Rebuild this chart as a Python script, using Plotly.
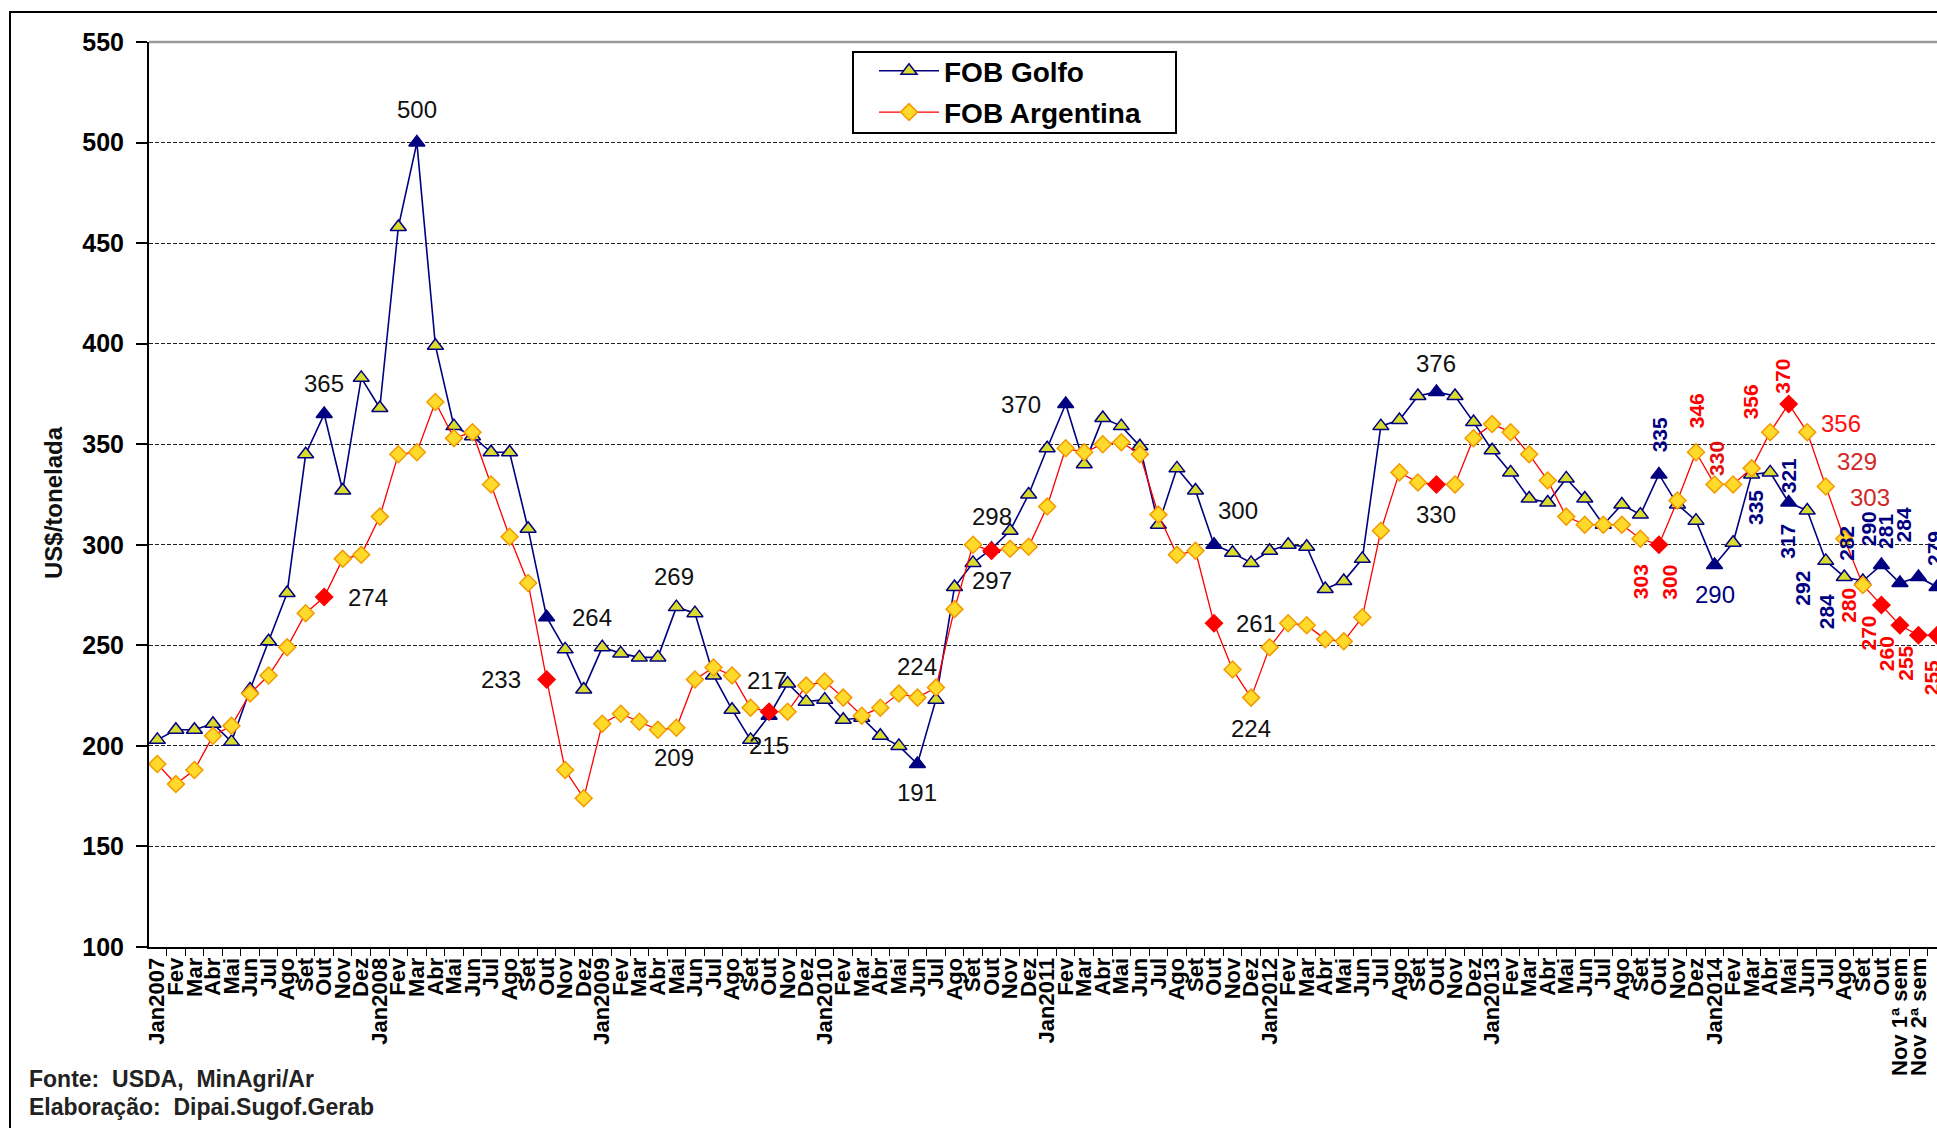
import plotly.graph_objects as go

# ---------------- data ----------------
tick_labels = [
    "Jan2007", "Fev", "Mar", "Abr", "Mai", "Jun", "Jul", "Ago", "Set", "Out", "Nov", "Dez",
    "Jan2008", "Fev", "Mar", "Abr", "Mai", "Jun", "Jul", "Ago", "Set", "Out", "Nov", "Dez",
    "Jan2009", "Fev", "Mar", "Abr", "Mai", "Jun", "Jul", "Ago", "Set", "Out", "Nov", "Dez",
    "Jan2010", "Fev", "Mar", "Abr", "Mai", "Jun", "Jul", "Ago", "Set", "Out", "Nov", "Dez",
    "Jan2011", "Fev", "Mar", "Abr", "Mai", "Jun", "Jul", "Ago", "Set", "Out", "Nov", "Dez",
    "Jan2012", "Fev", "Mar", "Abr", "Mai", "Jun", "Jul", "Ago", "Set", "Out", "Nov", "Dez",
    "Jan2013", "Fev", "Mar", "Abr", "Mai", "Jun", "Jul", "Ago", "Set", "Out", "Nov", "Dez",
    "Jan2014", "Fev", "Mar", "Abr", "Mai", "Jun", "Jul", "Ago", "Set", "Out",
    "Nov 1ª sem", "Nov 2ª sem", "Nov 3ª sem",
]

fob_golfo = [
    203, 208, 208, 211, 202, 228, 252, 276, 345, 365, 327, 383,
    368, 458, 500, 399, 359, 354, 346, 346, 308, 264, 248, 228,
    249, 246, 244, 244, 269, 266, 235, 218, 203, 215, 231, 222,
    223, 213, 214, 205, 200, 191, 223, 279, 291, 298, 307, 325,
    348, 370, 340, 363, 359, 349, 310, 338, 327, 300, 296, 291,
    297, 300, 299, 278, 282, 293, 359, 362, 374, 376, 374, 361,
    347, 336, 323, 321, 333, 323, 310, 320, 315, 335, 320, 312,
    290, 301, 335, 336, 321, 317, 292, 284, 282, 290,
    281, 284, 279,
]

fob_argentina = [
    191, 181, 188, 205, 210, 226, 235, 249, 266, 274, 293, 295,
    314, 345, 346, 371, 353, 356, 330, 304, 281, 233, 188, 174,
    211, 216, 212, 208, 209, 233, 239, 235, 219, 217, 217, 230,
    232, 224, 215, 219, 226, 224, 229, 268, 300, 297, 298, 299,
    319, 348, 346, 350, 351, 345, 315, 295, 297, 261, 238, 224,
    249, 261, 260, 253, 252, 264, 307, 336, 331, 330, 330, 353,
    360, 356, 345, 332, 314, 310, 310, 310, 303, 300, 322, 346,
    330, 330, 338, 356, 370, 356, 329, 303, 280, 270,
    260, 255, 255,
]

golfo_highlight = [9, 14, 21, 33, 41, 45, 49, 57, 69, 81, 84, 88, 93, 94, 95, 96]
argentina_highlight = [9, 21, 33, 45, 57, 69, 81, 88, 93, 94, 95, 96]

y_ticks = [100, 150, 200, 250, 300, 350, 400, 450, 500, 550]

# data labels: (series, index, xshift, yshift, angle, colour, bold)
label_specs = [
    ("g", 9, 0, 31, 0, "#111111", False),
    ("g", 14, 0, 33, 0, "#111111", False),
    ("g", 21, 45, 0, 0, "#111111", False),
    ("g", 28, -2, 31, 0, "#111111", False),
    ("g", 33, 0, -30, 0, "#111111", False),
    ("g", 41, 0, -29, 0, "#111111", False),
    ("g", 45, 0, 32, 0, "#111111", False),
    ("g", 49, -45, 0, 0, "#111111", False),
    ("g", 57, 24, 34, 0, "#111111", False),
    ("g", 69, 0, 28, 0, "#111111", False),
    ("g", 81, 0, 40, -90, "#000080", True),
    ("g", 84, 0, -30, 0, "#000080", False),
    ("g", 86, 4, -33, -90, "#000080", True),
    ("g", 88, 0, 27, -90, "#000080", True),
    ("g", 89, -20, -31, -90, "#000080", True),
    ("g", 90, -23, -27, -90, "#000080", True),
    ("g", 91, -17, -35, -90, "#000080", True),
    ("g", 92, -16, 38, -90, "#000080", True),
    ("g", 93, -13, 36, -90, "#000080", True),
    ("g", 94, -14, 52, -90, "#000080", True),
    ("g", 95, -15, 52, -90, "#000080", True),
    ("g", 96, -3, 38, -90, "#000080", True),
    ("a", 9, 44, 0, 0, "#111111", False),
    ("a", 21, -46, 0, 0, "#111111", False),
    ("a", 28, -2, -30, 0, "#111111", False),
    ("a", 33, -2, 31, 0, "#111111", False),
    ("a", 41, 0, 31, 0, "#111111", False),
    ("a", 45, 0, -30, 0, "#111111", False),
    ("a", 57, 42, 0, 0, "#111111", False),
    ("a", 59, 0, -31, 0, "#111111", False),
    ("a", 69, 0, -30, 0, "#111111", False),
    ("a", 80, 0, -43, -90, "#FF0000", True),
    ("a", 81, 11, -37, -90, "#FF0000", True),
    ("a", 83, 0, 41, -90, "#FF0000", True),
    ("a", 84, 2, 26, -90, "#E01010", True),
    ("a", 87, -20, 30, -90, "#FF0000", True),
    ("a", 88, -7, 28, -90, "#FF0000", True),
    ("a", 89, 34, 9, 0, "#FF1010", False),
    ("a", 90, 31, 25, 0, "#D02828", False),
    ("a", 91, 26, 41, 0, "#D02828", False),
    ("a", 92, -15, -20, -90, "#FF0000", True),
    ("a", 93, -13, -28, -90, "#FF0000", True),
    ("a", 94, -14, -28, -90, "#FF0000", True),
    ("a", 95, -13, -28, -90, "#FF0000", True),
    ("a", 96, -6, -43, -90, "#FF0000", True),
]

# ---------------- figure ----------------
FONT = "Liberation Sans, Arial, sans-serif"
x_idx = list(range(len(tick_labels)))

golfo_fill = ["#000080" if i in golfo_highlight else "#D9DC2E" for i in x_idx]
arg_fill = ["#FF0000" if i in argentina_highlight else "#FFDA2A" for i in x_idx]
arg_line = ["#FF0000" if i in argentina_highlight else "#F29A00" for i in x_idx]

fig = go.Figure()
fig.add_trace(go.Scatter(
    x=x_idx, y=fob_golfo, name="FOB Golfo", mode="lines+markers",
    line=dict(color="#000080", width=1.6),
    marker=dict(symbol="triangle-up", size=14, color=golfo_fill,
                line=dict(color="#000080", width=1.5)),
    legendgroup="g",
))
fig.add_trace(go.Scatter(
    x=x_idx, y=fob_argentina, name="FOB Argentina", mode="lines+markers",
    line=dict(color="#FF0000", width=1.3),
    marker=dict(symbol="diamond", size=13, color=arg_fill,
                line=dict(color=arg_line, width=1.5)),
    legendgroup="a",
))

series = {"g": fob_golfo, "a": fob_argentina}
annotations = []
for s, i, dx, dy, ang, col, bold in label_specs:
    annotations.append(dict(
        x=i, y=series[s][i], xref="x", yref="y", text=str(series[s][i]),
        showarrow=False, xshift=dx, yshift=dy, textangle=ang,
        font=dict(family=FONT, size=21 if ang else 24, color=col,
                  weight="bold" if bold else "normal"),
    ))

W, H = 1937, 1128
ML, MT, MB = 149, 42, 181
PW, PH = W - ML, H - MT - MB


def px_x(px):
    return (px - ML) / PW


def px_y(py):
    return (H - MB - py) / PH


annotations.append(dict(
    x=px_x(53), y=px_y(503), xref="paper", yref="paper", xanchor="center",
    yanchor="middle", text="US$/tonelada", showarrow=False, textangle=-90,
    font=dict(family=FONT, size=24, color="#111111", weight="bold"),
))
annotations.append(dict(
    x=px_x(27), y=px_y(1079), xref="paper", yref="paper", xanchor="left",
    yanchor="middle", text="Fonte:  USDA,  MinAgri/Ar", showarrow=False,
    font=dict(family=FONT, size=23, color="#222222", weight="bold"),
))
annotations.append(dict(
    x=px_x(27), y=px_y(1107), xref="paper", yref="paper", xanchor="left",
    yanchor="middle", text="Elaboração:  Dipai.Sugof.Gerab", showarrow=False,
    font=dict(family=FONT, size=23, color="#222222", weight="bold"),
))

shapes = [
    # outer frame of the chart
    dict(type="rect", xref="paper", yref="paper", x0=px_x(10), x1=px_x(2100),
         y0=px_y(1300), y1=px_y(12), line=dict(color="black", width=2)),
    # top border of plot area
    dict(type="line", xref="paper", yref="paper", x0=0, x1=1, y0=1, y1=1,
         line=dict(color="#9a9a9a", width=2.5)),
    # legend box
    dict(type="rect", xref="paper", yref="paper", x0=px_x(853), x1=px_x(1176),
         y0=px_y(133), y1=px_y(52), line=dict(color="black", width=2),
         fillcolor="white", layer="above"),
]

fig.update_layout(
    width=W, height=H,
    margin=dict(l=ML, r=0, t=MT, b=MB),
    paper_bgcolor="white", plot_bgcolor="white",
    font=dict(family=FONT, color="black"),
    showlegend=True,
    legend=dict(
        x=px_x(874), y=px_y(46), xanchor="left", yanchor="top",
        borderwidth=0, bgcolor="rgba(0,0,0,0)",
        font=dict(family=FONT, size=28, color="black", weight="bold"),
        itemwidth=60, traceorder="grouped", tracegroupgap=2,
    ),
    annotations=annotations,
    shapes=shapes,
)

fig.update_xaxes(
    range=[-0.45, 96.0],
    tickmode="array", tickvals=x_idx, ticktext=tick_labels,
    tickangle=-90, ticks="",
    tickfont=dict(family=FONT, size=22, color="black", weight="bold"),
    showline=True, linecolor="black", linewidth=2,
    showgrid=False, zeroline=False,
    minor=dict(tickmode="linear", tick0=0.5, dtick=1, ticks="outside",
               ticklen=7, tickcolor="black", tickwidth=1.2, showgrid=False),
)
fig.update_yaxes(
    range=[100, 550], tickmode="array", tickvals=y_ticks,
    ticks="outside", ticklen=11, tickcolor="black", tickwidth=1.5,
    ticklabelstandoff=7,
    tickfont=dict(family=FONT, size=25, color="black", weight="bold"),
    showline=True, linecolor="black", linewidth=2,
    showgrid=True, gridcolor="#222222", gridwidth=1.3, griddash="4px,2px",
    zeroline=False,
)

fig.write_html(
    "out.html",
    config={"displayModeBar": False},
    post_script="document.body.style.margin='0';document.body.style.overflow='hidden';",
)
